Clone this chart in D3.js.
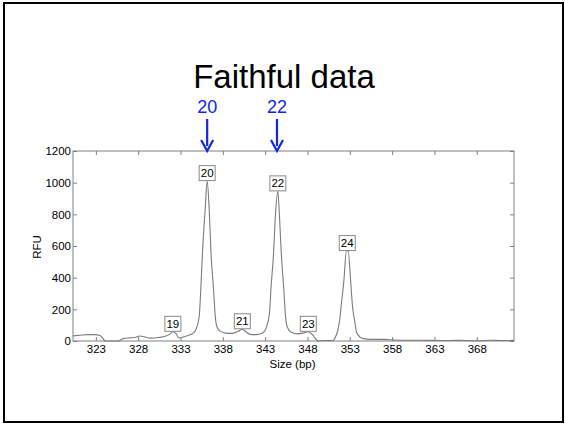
<!DOCTYPE html>
<html><head><meta charset="utf-8">
<script src="https://cdn.jsdelivr.net/npm/d3@7"></script>
<style>
html,body{margin:0;padding:0;background:#fff;}
svg{display:block;font-family:"Liberation Sans",Arial,Helvetica,sans-serif;}
</style></head>
<body><svg id="c" width="565" height="426"></svg>
<script>
// ---- data ----
const title = "Faithful data";
const xTicks = [323, 328, 333, 338, 343, 348, 353, 358, 363, 368];
const yTicks = [0, 200, 400, 600, 800, 1000, 1200];
const traceSize = [320.3,321.1,322.1,322.9,323.5,323.85,324.1,325.7,326.2,327.0,327.6,328.2,328.8,329.4,330.4,331.2,331.8,332.1,332.5,332.8,333.3,333.9,334.5,334.8,335.2,335.4,335.6,335.9,336.15,336.4,336.6,336.9,337.1,337.3,337.7,338.3,339.1,339.8,340.3,340.8,341.2,341.9,342.7,343.1,343.5,343.7,344.0,344.2,344.5,344.7,344.9,345.2,345.4,345.6,346.1,346.8,347.5,348.1,348.6,349.1,349.3,350.1,351.0,351.2,351.55,351.8,352.0,352.3,352.6,352.8,353.1,353.3,353.6,353.8,354.2,354.6,355.4,357.2,358.2,359.0,361.4,363.7,366.1,367.3,368.5,369.6,370.8,372.4];
const traceRFU = [32,36,40,40,35,15,0,0,15,20,22,32,25,18,22,30,45,58,45,20,25,35,50,70,150,330,560,820,1010,820,560,330,160,90,62,50,48,60,74,55,42,40,50,80,170,340,560,780,945,780,560,330,160,90,55,45,50,58,40,5,0,3,2,15,60,130,230,380,568,568,380,230,120,55,25,15,10,10,6,5,5,3,4,2,2,5,3,4];
const alleles = ["19","20","21","22","23","24"];
const alleleSize = [332.1,336.15,340.3,344.5,348.1,352.7];
const alleleRFU = [58,1010,74,945,58,568];
const markers = ["20","22"];
const markerSize = [336.15,344.4];
const xLabel = "Size (bp)";
const yLabel = "RFU";

// ---- drawing ----
const svg = d3.select("#c");
const L=73, R=514, T=151, B=341;
const x = d3.scaleLinear().domain([320.3,372.4]).range([L,R]);
const y = d3.scaleLinear().domain([0,1200]).range([B,T]);
const axisCol = "#808080";

svg.append("rect").attr("x",4).attr("y",3).attr("width",559).attr("height",419)
  .attr("fill","none").attr("stroke","#000").attr("stroke-width",2);

svg.append("text").attr("x",284).attr("y",88).attr("text-anchor","middle")
  .attr("font-size",33).attr("fill","#000").text(title);

// plot frame
svg.append("rect").attr("x",L).attr("y",T).attr("width",R-L).attr("height",B-T)
  .attr("fill","none").attr("stroke",axisCol).attr("stroke-width",1);

function styleAxis(g, showText){
  g.select(".domain").remove();
  g.selectAll(".tick line").attr("stroke",axisCol);
  g.selectAll(".tick text").attr("fill","#000").attr("font-size",11.5)
   .attr("font-family","'Liberation Sans',Arial,sans-serif");
  if(!showText) g.selectAll(".tick text").remove();
}
svg.append("g").attr("transform",`translate(0,${B})`)
  .call(d3.axisBottom(x).tickValues(xTicks).tickFormat(d3.format("d")).tickSizeInner(-4).tickSizeOuter(0).tickPadding(4))
  .call(g=>styleAxis(g,true));
svg.append("g").attr("transform",`translate(0,${T})`)
  .call(d3.axisTop(x).tickValues(xTicks).tickSizeInner(-4).tickSizeOuter(0))
  .call(g=>styleAxis(g,false));
svg.append("g").attr("transform",`translate(${L},0)`)
  .call(d3.axisLeft(y).tickValues(yTicks).tickFormat(d3.format("d")).tickSizeInner(-4).tickSizeOuter(0).tickPadding(2))
  .call(g=>styleAxis(g,true));
svg.append("g").attr("transform",`translate(${R},0)`)
  .call(d3.axisRight(y).tickValues(yTicks).tickSizeInner(-4).tickSizeOuter(0))
  .call(g=>styleAxis(g,false));

svg.append("text").attr("x",292.5).attr("y",368).attr("text-anchor","middle")
  .attr("font-size",11.5).text(xLabel);
svg.append("text").attr("transform","translate(40.5,247) rotate(-90)").attr("text-anchor","middle")
  .attr("font-size",11.5).text(yLabel);

// trace
const pts = traceSize.map((s,i)=>[s,traceRFU[i]]);
svg.append("path").datum(pts)
  .attr("d", d3.line().x(d=>x(d[0])).y(d=>y(d[1])).curve(d3.curveMonotoneX))
  .attr("fill","none").attr("stroke","#7c7c7c").attr("stroke-width",1.1);

// allele label boxes
const lab = svg.append("g");
alleles.forEach((a,i)=>{
  const cx = x(alleleSize[i]), by = y(alleleRFU[i]) - 0.5;
  const w=16, h=15;
  lab.append("rect").attr("x",cx-w/2).attr("y",by-h).attr("width",w).attr("height",h)
    .attr("fill","#fff").attr("stroke","#8a8a8a").attr("stroke-width",1);
  lab.append("text").attr("x",cx).attr("y",by-3.5).attr("text-anchor","middle")
    .attr("font-size",11.5).attr("fill","#000").text(a);
});

// blue markers
const blue = "#0f23ff";
markers.forEach((m,i)=>{
  const cx = x(markerSize[i]);
  svg.append("text").attr("x",cx).attr("y",113).attr("text-anchor","middle")
    .attr("font-size",18).attr("fill",blue).text(m);
  svg.append("line").attr("x1",cx).attr("x2",cx).attr("y1",119).attr("y2",146)
    .attr("stroke",blue).attr("stroke-width",2.2);
  svg.append("path").attr("d",`M${cx-6},${140} L${cx},${151} L${cx+6},${140}`)
    .attr("fill","none").attr("stroke",blue).attr("stroke-width",2.2);
});
</script></body></html>
